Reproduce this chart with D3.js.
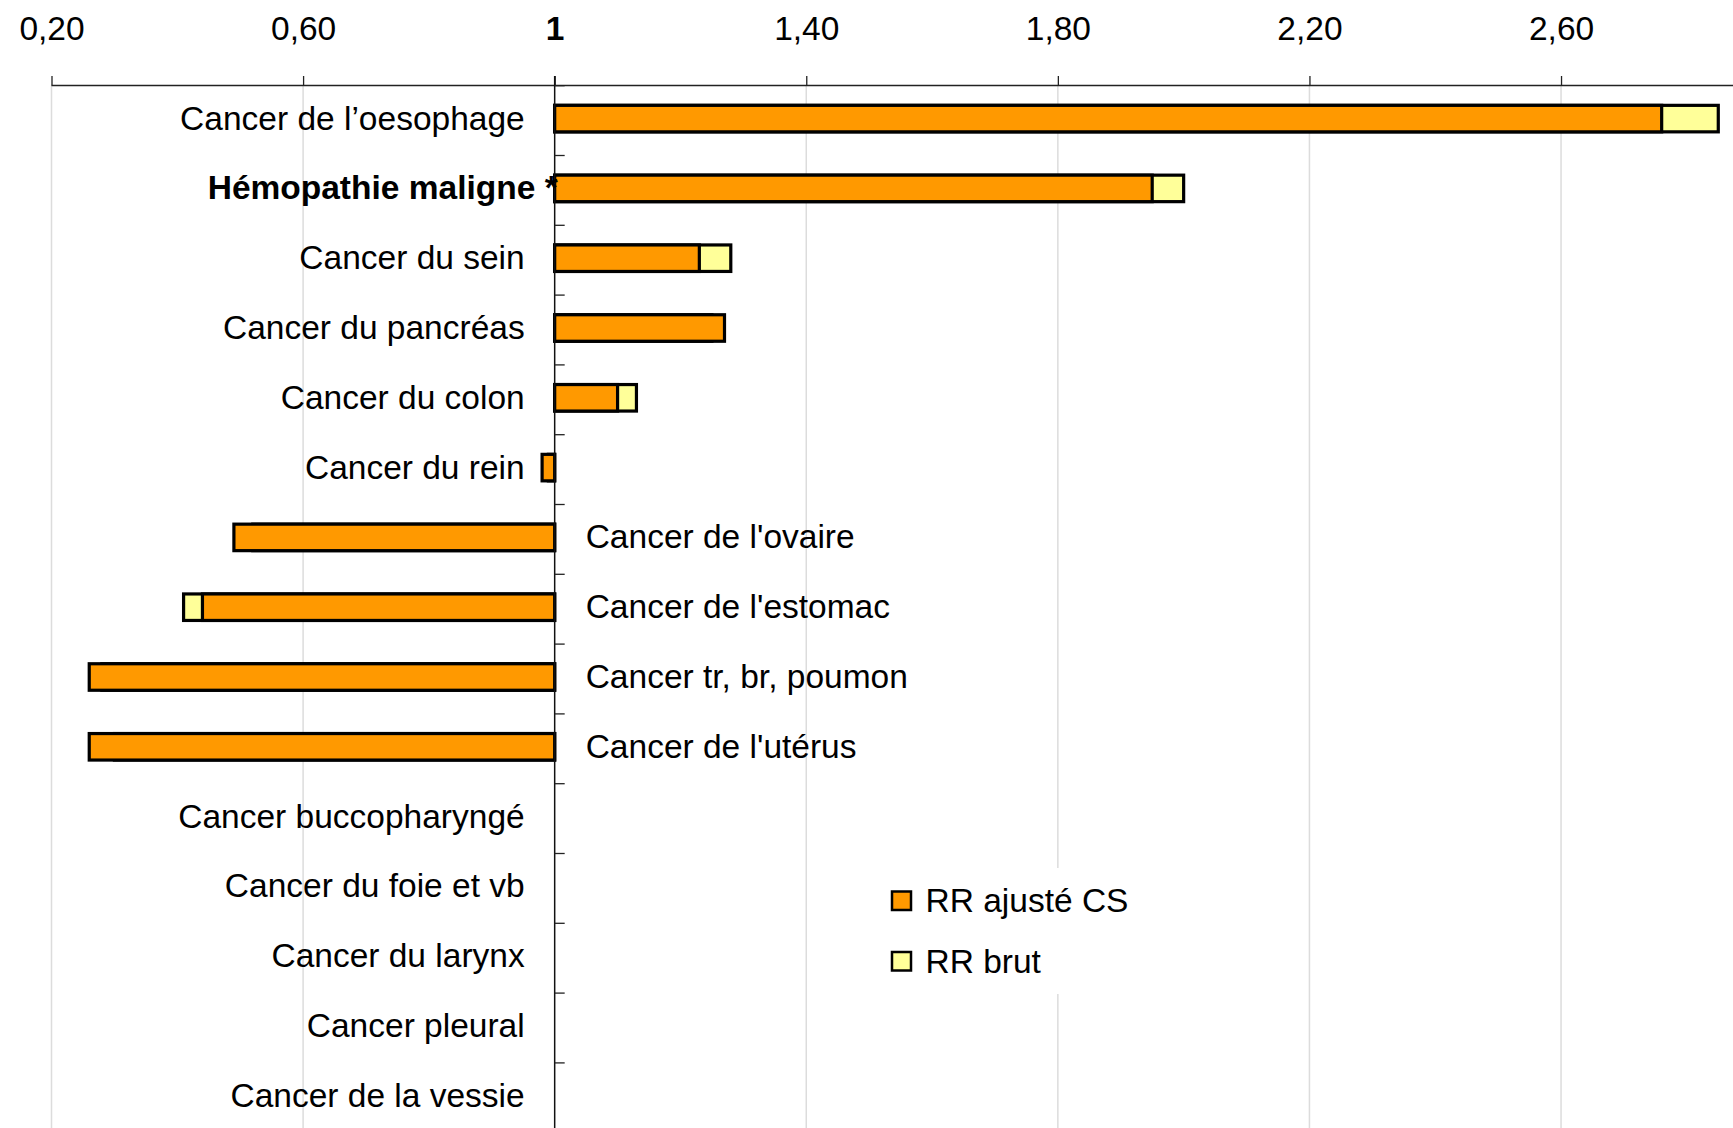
<!DOCTYPE html>
<html>
<head>
<meta charset="utf-8">
<script src="https://cdn.jsdelivr.net/npm/d3@7"></script>
<style>
  body { margin: 0; background: #fff; }
  svg text { font-family: "Liberation Sans", Arial, sans-serif; fill: #000; }
</style>
</head>
<body>
<div id="chart"></div>
<script>
// data
const categories = [
  "Cancer de l’oesophage", "Hémopathie maligne *", "Cancer du sein", "Cancer du pancréas",
  "Cancer du colon", "Cancer du rein", "Cancer de l'ovaire", "Cancer de l'estomac",
  "Cancer tr, br, poumon", "Cancer de l'utérus", "Cancer buccopharyngé", "Cancer du foie et vb",
  "Cancer du larynx", "Cancer pleural", "Cancer de la vessie"
];
const rrAjuste = [2.76, 1.95, 1.23, 1.27, 1.10, 0.98, 0.49, 0.44, 0.26, 0.26, null, null, null, null, null];
const rrBrut   = [2.85, 2.00, 1.28, 1.25, 1.13, 0.99, 0.52, 0.41, 0.28, 0.30, null, null, null, null, null];
const tickValues = [0.2, 0.6, 1, 1.4, 1.8, 2.2, 2.6];
const tickLabels = ["0,20", "0,60", "1", "1,40", "1,80", "2,20", "2,60"];
const labelsOnRight = ["Cancer de l'ovaire", "Cancer de l'estomac", "Cancer tr, br, poumon", "Cancer de l'utérus"];
const boldLabels = ["Hémopathie maligne *"];
const seriesNames = ["RR ajusté CS", "RR brut"];

const width = 1733, height = 1128;
const axisY = 85.5;
const step = 69.8;

const svg = d3.select("#chart").append("svg")
  .attr("width", width)
  .attr("height", height);

const x = d3.scaleLinear().domain([0.2, 2.875]).range([51.5, 1734]);
const y = d3.scaleBand().domain(categories).range([axisY, axisY + step * categories.length]).paddingInner(0);

// gridlines
svg.append("g").selectAll("line")
  .data(tickValues.filter(d => d !== 1))
  .enter().append("line")
  .attr("x1", d => x(d)).attr("x2", d => x(d))
  .attr("y1", axisY).attr("y2", height)
  .attr("stroke", "#dcdcdc")
  .attr("stroke-width", 1.5);

// bars: brut behind, ajusté in front
const barH = 26.5;
function drawBars(values, color) {
  svg.append("g").selectAll("rect")
    .data(categories.map((c, i) => ({ c: c, v: values[i] })).filter(d => d.v != null))
    .enter().append("rect")
    .attr("x", d => Math.min(x(1), x(d.v)))
    .attr("width", d => Math.abs(x(d.v) - x(1)))
    .attr("y", d => y(d.c) + y.bandwidth() / 2 - 1.8 - barH / 2)
    .attr("height", barH)
    .attr("fill", color)
    .attr("stroke", "#000")
    .attr("stroke-width", 3.2);
}
drawBars(rrBrut, "#ffff99");
drawBars(rrAjuste, "#ff9900");

// top value axis
const xAxis = d3.axisTop(x)
  .tickValues(tickValues)
  .tickSize(9.5)
  .tickFormat((d, i) => tickLabels[i]);
const gx = svg.append("g")
  .attr("transform", "translate(0," + axisY + ")")
  .call(xAxis);
gx.select(".domain").attr("stroke", "#222").attr("stroke-width", 1.3)
  .attr("d", "M" + x(0.2) + ",0H" + width);
gx.selectAll(".tick line").attr("stroke", "#222").attr("stroke-width", 1.3);
gx.selectAll(".tick text")
  .attr("y", -45.5)
  .attr("dy", 0)
  .style("font-size", "33.5px")
  .style("font-family", "'Liberation Sans', Arial, sans-serif")
  .style("font-weight", d => d === 1 ? "bold" : "normal")
  .attr("fill", "#000");

// category axis at 1
svg.append("line")
  .attr("x1", x(1)).attr("x2", x(1))
  .attr("y1", axisY - 9.5).attr("y2", height)
  .attr("stroke", "#111").attr("stroke-width", 1.5);
svg.append("g").selectAll("line")
  .data(categories)
  .enter().append("line")
  .attr("x1", x(1)).attr("x2", x(1) + 10)
  .attr("y1", d => y(d) + 0.2).attr("y2", d => y(d) + 0.2)
  .attr("stroke", "#222").attr("stroke-width", 1.3);

// category labels
svg.append("g").selectAll("text")
  .data(categories)
  .enter().append("text")
  .attr("x", d => labelsOnRight.includes(d) ? x(1) + 31 : (boldLabels.includes(d) ? x(1) + 3 : x(1) - 30))
  .attr("y", d => y(d) + y.bandwidth() / 2 - 1.8 + 11)
  .attr("text-anchor", d => labelsOnRight.includes(d) ? "start" : "end")
  .style("font-size", "33.5px")
  .style("font-weight", d => boldLabels.includes(d) ? "bold" : "normal")
  .text(d => d);

// legend
const legend = svg.append("g");
legend.append("rect")
  .attr("x", 878).attr("y", 868).attr("width", 230).attr("height", 126)
  .attr("fill", "#fff");
const legendColors = ["#ff9900", "#ffff99"];
seriesNames.forEach((name, i) => {
  const ly = 891.5 + i * 60.5;
  legend.append("rect")
    .attr("x", 892).attr("y", ly)
    .attr("width", 19).attr("height", 18.5)
    .attr("fill", legendColors[i])
    .attr("stroke", "#000").attr("stroke-width", 2.5);
  legend.append("text")
    .attr("x", 925.5).attr("y", ly + 20.5)
    .style("font-size", "33.5px")
    .text(name);
});
</script>
</body>
</html>
